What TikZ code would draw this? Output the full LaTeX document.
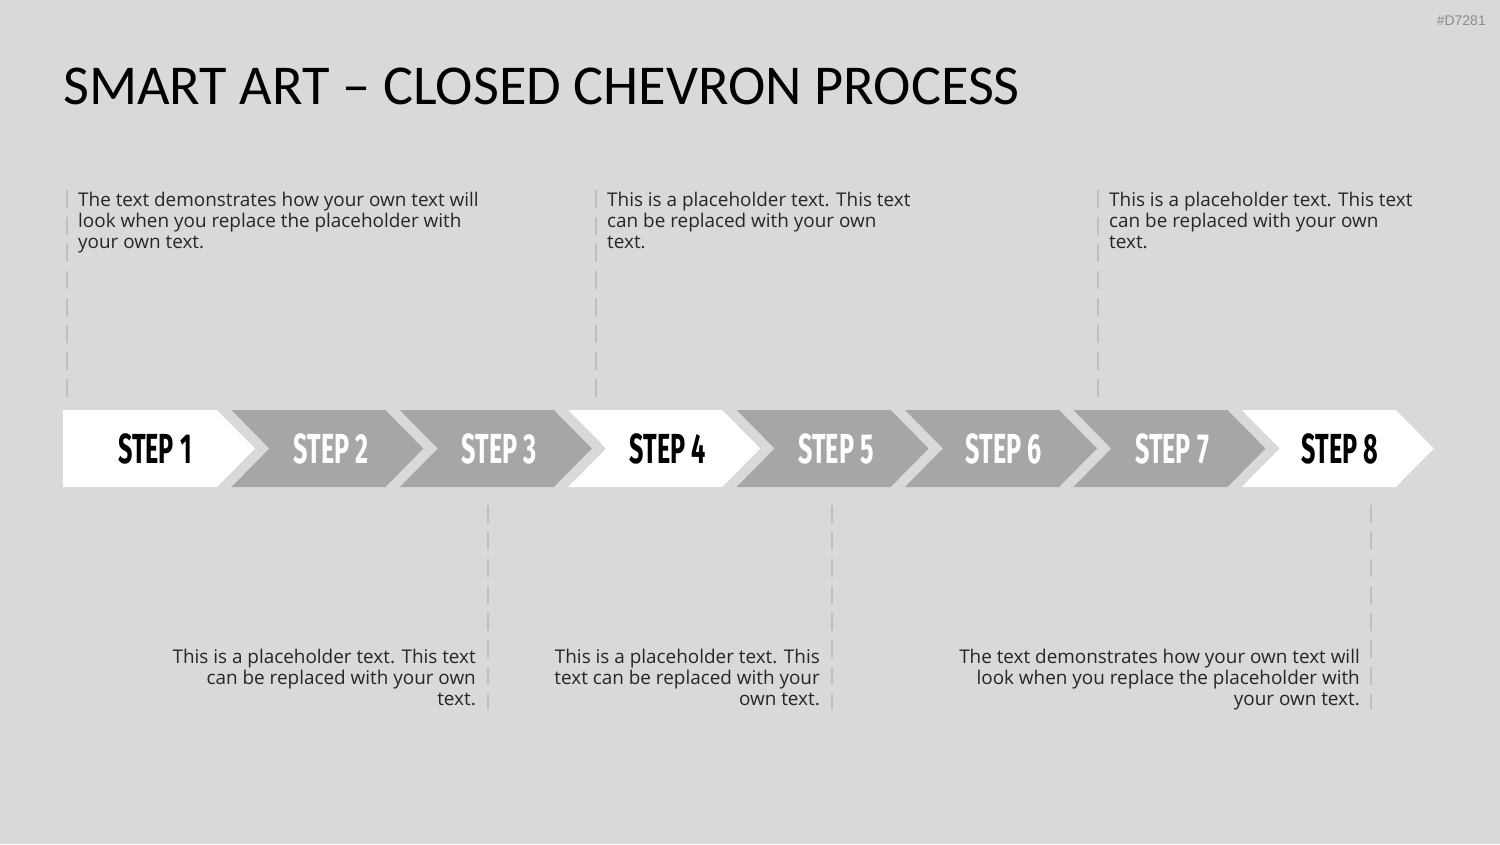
\documentclass[tikz,border=0pt]{standalone}
\usepackage{fontspec}
\setmainfont{Carlito}
\newfontfamily\notefont{Open Sans}
\newfontfamily\stepfont[FakeStretch=0.6]{Fira Sans}
\newfontfamily\tagfont{Liberation Sans}
\usetikzlibrary{positioning}

\definecolor{slidebg}{HTML}{D9D9D9}
\definecolor{chevgray}{HTML}{A6A6A6}
\definecolor{guidegray}{HTML}{BFBFBF}
\definecolor{notetext}{HTML}{262626}
\definecolor{tagtext}{HTML}{8C8C8C}

\tikzset{
  chevron/.style={draw=none},
  steplabel/.style={font=\stepfont\bfseries\fontsize{42}{42}\selectfont, inner sep=0pt},
  guide/.style={draw=guidegray, line width=2.5pt, dash pattern=on 18pt off 9pt},
  note/.style={font=\notefont\fontsize{18.9}{21}\selectfont, text=notetext, inner sep=0pt}
}

\begin{document}
\begin{tikzpicture}[x=1pt,y=-1pt]
\useasboundingbox[fill=slidebg] (0,0) rectangle (1500,844);

% title and tag
\node[anchor=base west, inner sep=0pt, font=\fontsize{56.3}{56.3}\selectfont] (title) at (63,104) {SMART ART -- CLOSED CHEVRON PROCESS};
\node[anchor=base east, inner sep=0pt, text=tagtext, font=\tagfont\fontsize{14}{14}\selectfont] (tag) at (1486,25) {\#D7281};

% Chevrons
\foreach \i/\tx/\fc/\tc in {1/155/white/black, 2/331/chevgray/white, 3/499/chevgray/white, 4/668/white/black,
                           5/836/chevgray/white, 6/1004/chevgray/white, 7/1172/chevgray/white, 8/1340/white/black}{
  \pgfmathsetmacro{\L}{63+168.4*(\i-1)}
  \ifnum\i=1
    \fill[chevron,\fc] (\L,410) -- ++(154,0) -- ++(38,38.5) -- ++(-38,38.5) -- ++(-154,0) -- cycle;
  \else
    \fill[chevron,\fc] (\L,410) -- ++(154,0) -- ++(38,38.5) -- ++(-38,38.5) -- ++(-154,0) -- ++(38,-38.5) -- cycle;
  \fi
  \node[steplabel, text=\tc] (step\i) at (\tx,448.5) {STEP \i};
}

% Leader lines
\foreach \x/\ya/\yb in {67/190/400, 596/190/400, 1098/190/400, 488/505/710, 832/505/710, 1371/505/710}{
  \draw[guide] (\x,\ya) -- (\x,\yb);
}

% Notes above
\node[note, anchor=north west, align=left] (note1) at (78,192)
  {The text demonstrates how your own text will\\look when you replace the placeholder with\\your own text.};
\node[note, anchor=north west, align=left] (note4) at (607,192)
  {This is a placeholder text. This text\\can be replaced with your own\\text.};
\node[note, anchor=north west, align=left] (note7) at (1109,192)
  {This is a placeholder text. This text\\can be replaced with your own\\text.};

% Notes below
\node[note, anchor=north east, align=right] (note3) at (476,649)
  {This is a placeholder text. This text\\can be replaced with your own\\text.};
\node[note, anchor=north east, align=right] (note5) at (820,649)
  {This is a placeholder text. This\\text can be replaced with your\\own text.};
\node[note, anchor=north east, align=right] (note8) at (1360,649)
  {The text demonstrates how your own text will\\look when you replace the placeholder with\\your own text.};
\end{tikzpicture}
\end{document}
